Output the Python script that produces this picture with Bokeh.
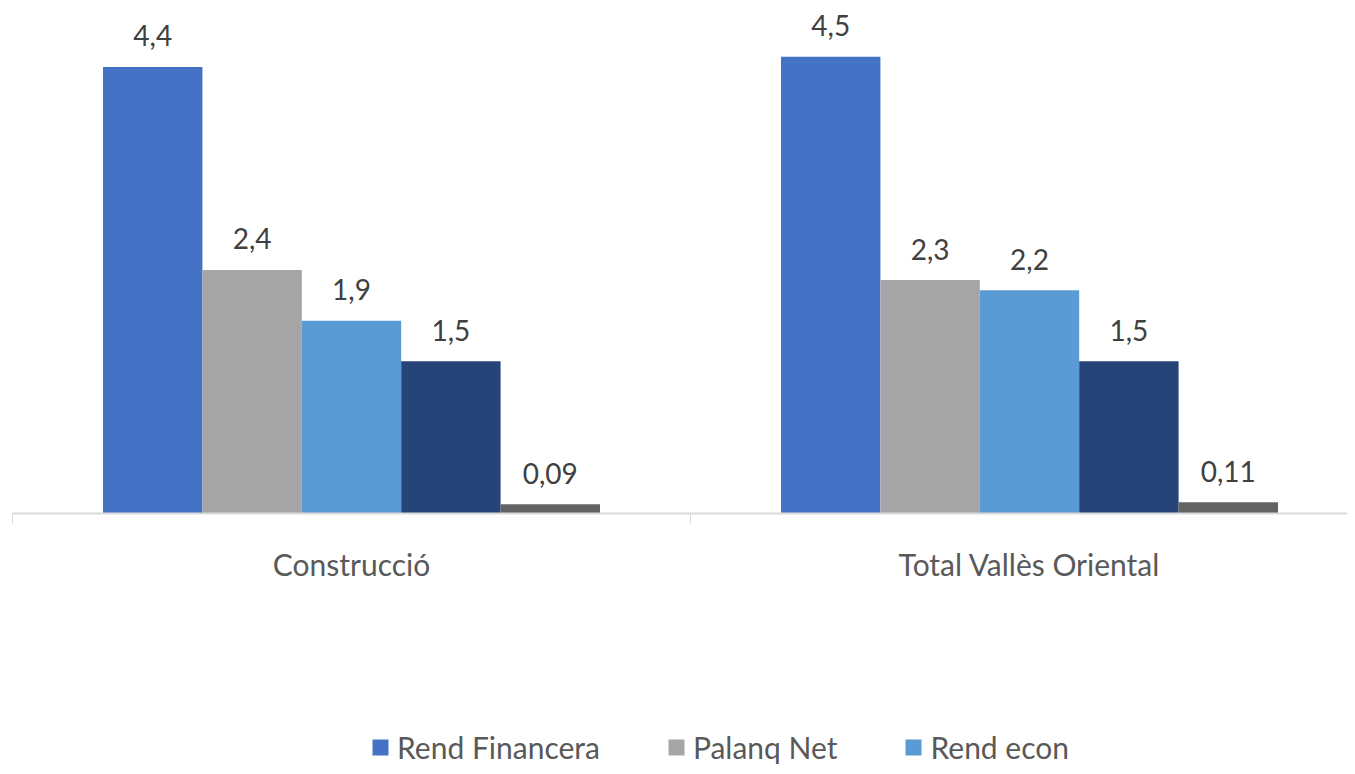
import math
from bokeh.plotting import figure
from bokeh.models import Range1d, ColumnDataSource, Legend, LegendItem
from bokeh.core.properties import value
from bokeh.embed import file_html
from bokeh.resources import INLINE

categories = ["Construcció", "Total Vallès Oriental"]
series = ["Rend Financera", "Palanq Net", "Rend econ", "Serie 4", "Serie 5"]
colors = ["#4472C4", "#A5A5A5", "#5B9BD5", "#264478", "#636363"]
values = [
    [4.4, 4.5],
    [2.4, 2.3],
    [1.9, 2.2],
    [1.5, 1.5],
    [0.09, 0.11],
]
labels = [
    ["4,4", "4,5"],
    ["2,4", "2,3"],
    ["1,9", "2,2"],
    ["1,5", "1,5"],
    ["0,09", "0,11"],
]
legend_shown = 3

FONT = "Lato"
PX_PER_CAT = 678.0
PX_PER_UNIT = 101.5
X0 = 12          # px from left edge to first category boundary
BASE = 513       # px from top to the value axis baseline
W, H = 1347, 766
bar_w = 0.1466   # in category units

p = figure(width=W, height=H, output_backend="svg", toolbar_location=None,
           x_range=Range1d(-X0 / PX_PER_CAT, (W - X0) / PX_PER_CAT),
           y_range=Range1d(-(H - BASE) / PX_PER_UNIT, BASE / PX_PER_UNIT),
           min_border=0)
p.outline_line_color = None
p.xgrid.visible = False
p.ygrid.visible = False
p.xaxis.visible = False
p.yaxis.visible = False
p.background_fill_color = "white"

renderers = []
for j, (name, col) in enumerate(zip(series, colors)):
    xs = [i + 0.5 + (j - 2) * bar_w for i in range(len(categories))]
    src = ColumnDataSource(dict(x=xs, top=values[j], lab=labels[j]))
    r = p.vbar(x="x", top="top", bottom=0, width=bar_w, source=src,
               fill_color=col, line_color=None)
    renderers.append(r)
    p.text(x="x", y="top", text="lab", source=src, text_align="center",
           text_baseline="alphabetic", y_offset=-31, text_font=value(FONT),
           text_font_size="28px", text_color="#404040")

# category axis: baseline, separators and labels
n = len(categories)
p.segment(x0=[0], y0=[0], x1=[n], y1=[0], line_color="#D9D9D9", line_width=2)
p.ray(x=list(range(n + 1)), y=[0] * (n + 1), length=10, length_units="screen",
      angle=-math.pi / 2, line_color="#D9D9D9", line_width=1)
cat_src = ColumnDataSource(dict(x=[i + 0.5 for i in range(n)], y=[0] * n, t=categories))
p.text(x="x", y="y", text="t", source=cat_src, text_align="center",
       text_baseline="alphabetic", y_offset=50, text_font=value(FONT),
       text_font_size="30px", text_color="#595959")

items = [LegendItem(label=series[k], renderers=[renderers[k]]) for k in range(legend_shown)]
legend = Legend(items=items, orientation="horizontal", location=(370, 1),
                spacing=66, glyph_width=20, glyph_height=20, label_standoff=7,
                padding=0, margin=0, border_line_color=None,
                background_fill_alpha=0,
                label_text_font=FONT, label_text_font_size="30px",
                label_text_color="#595959")
p.add_layout(legend)

open("out.html", "w").write(file_html(p, INLINE))
